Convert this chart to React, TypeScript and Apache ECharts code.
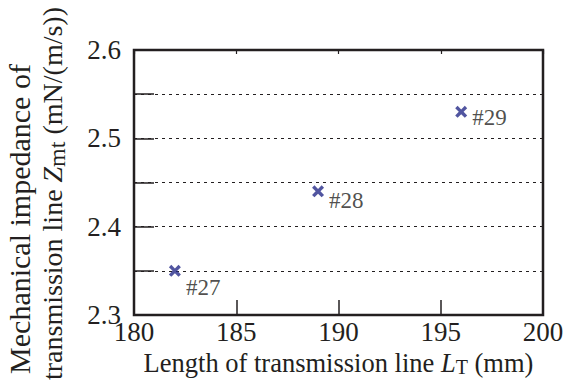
import React, { useEffect, useRef } from "react";
import * as echarts from "echarts";

const lengths = [182, 189, 196];
const impedances = [2.35, 2.44, 2.53];
const sampleNames = ["#27", "#28", "#29"];
const labelOffsets = [[0, 17], [0, 9], [0, 6]];
const xTicks = { min: 180, max: 200, interval: 5 };
const yTicks = { min: 2.3, max: 2.6, interval: 0.05 };

const FONT = "Times New Roman, Liberation Serif, DejaVu Serif, serif";
const INK = "#231f20";
const BLUE = "#262a88";
const CROSS = "path://M0,2 L2,0 L5,3 L8,0 L10,2 L7,5 L10,8 L8,10 L5,7 L2,10 L0,8 L3,5 Z";

export default function App() {
  const ref = useRef<HTMLDivElement>(null);
  useEffect(() => {
    if (!ref.current) return;
    const chart = echarts.init(ref.current, null, { renderer: "svg" });
    const data = lengths.map((x, i) => ({
      value: [x, impedances[i]],
      name: sampleNames[i],
      label: { offset: labelOffsets[i] },
    }));
    chart.setOption({
      animation: false,
      backgroundColor: "#ffffff",
      textStyle: { fontFamily: FONT },
      grid: {
        left: 134,
        top: 50,
        right: 22,
        bottom: 66,
        containLabel: false,
        outerBoundsMode: "none",
        show: true,
        borderColor: INK,
        borderWidth: 2.5,
        backgroundColor: "transparent",
      },
      xAxis: [
        {
          type: "value",
          min: xTicks.min,
          max: xTicks.max,
          interval: xTicks.interval,
          axisLine: { show: false },
          axisTick: { show: true, inside: true, length: 15, lineStyle: { color: INK, width: 1.5 } },
          axisLabel: { color: INK, fontFamily: FONT, fontSize: 27, margin: 3 },
          splitLine: { show: false },
          name: "{n|Length of transmission line }{i|L}{s|T}{n| (mm)}",
          nameLocation: "middle",
          nameGap: 32,
          nameTextStyle: {
            color: INK,
            fontFamily: FONT,
            rich: {
              n: { fontFamily: FONT, fontSize: 26.5, color: INK },
              i: { fontFamily: FONT, fontSize: 26.5, color: INK, fontStyle: "italic" },
              s: { fontFamily: FONT, fontSize: 20, color: INK, verticalAlign: "bottom", padding: [8, 0, 0, 0] },
            },
          },
        },
        {
          type: "value",
          position: "top",
          min: xTicks.min,
          max: xTicks.max,
          interval: xTicks.interval,
          axisLine: { show: false },
          axisTick: { show: true, inside: true, length: 4, lineStyle: { color: INK, width: 1.2 } },
          axisLabel: { show: false },
          splitLine: { show: false },
        },
      ],
      yAxis: {
        type: "value",
        min: yTicks.min,
        max: yTicks.max,
        interval: yTicks.interval,
        axisLine: { show: false },
        axisTick: { show: true, inside: true, length: 20, lineStyle: { color: INK, width: 1.5 } },
        axisLabel: {
          color: INK,
          fontFamily: FONT,
          fontSize: 27,
          margin: 13,
          formatter: (v: number) => (Math.round(v * 100) % 10 === 0 ? v.toFixed(1) : ""),
        },
        splitLine: { show: true, lineStyle: { color: INK, width: 1, type: [3, 4] } },
        name: "{a|Mechanical impedance of}\n{n|transmission line }{i|Z}{s|mt}{n| (mN/(m/s))}",
        nameLocation: "middle",
        nameRotate: 90,
        nameGap: 65,
        nameTextStyle: {
          color: INK,
          fontFamily: FONT,
          lineHeight: 33,
          padding: [0, 22, 0, 0],
          rich: {
            a: { fontFamily: FONT, fontSize: 30, color: INK, lineHeight: 33, padding: [0, 51, 0, 0] },
            n: { fontFamily: FONT, fontSize: 28, color: INK, lineHeight: 33 },
            i: { fontFamily: FONT, fontSize: 28, color: INK, fontStyle: "italic", lineHeight: 33 },
            s: { fontFamily: FONT, fontSize: 24, color: INK, lineHeight: 33, verticalAlign: "bottom" },
          },
        },
      },
      series: [
        {
          type: "scatter",
          data,
          symbol: CROSS,
          symbolSize: 12,
          itemStyle: { color: BLUE },
          label: {
            show: true,
            position: "right",
            distance: 5,
            formatter: "{b}",
            color: INK,
            fontFamily: FONT,
            fontSize: 23,
          },
        },
      ],
    });
    return () => chart.dispose();
  }, []);
  return <div ref={ref} style={{ width: 565, height: 381, position: "absolute", left: 0, top: 0 }} />;
}
